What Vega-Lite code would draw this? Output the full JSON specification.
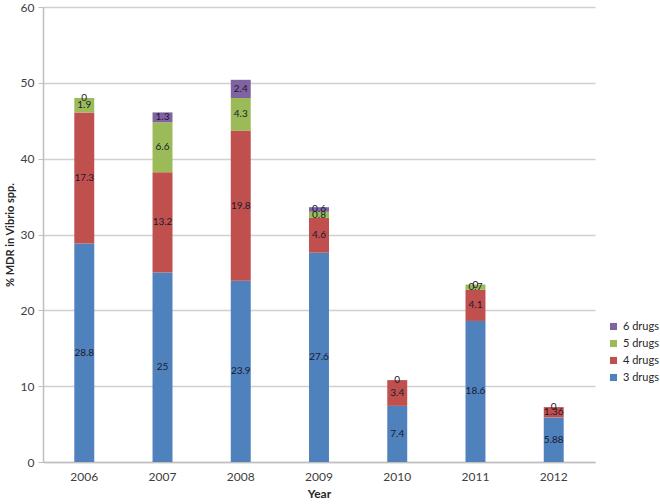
{
  "$schema": "https://vega.github.io/schema/vega-lite/v6.json",
  "width": 552,
  "height": 455,
  "autosize": "none",
  "padding": {"left": 43, "top": 7, "right": 65, "bottom": 42},
  "background": "white",
  "config": {
    "font": "Lato",
    "view": {"stroke": null},
    "axis": {"labelFont": "Lato", "titleFont": "Lato", "labelColor": "#404040", "titleColor": "#262626"}
  },
  "data": {
    "values": [
      {"year": "2006", "drugs": "3 drugs", "value": 28.8},
      {"year": "2006", "drugs": "4 drugs", "value": 17.3},
      {"year": "2006", "drugs": "5 drugs", "value": 1.9},
      {"year": "2006", "drugs": "6 drugs", "value": 0},
      {"year": "2007", "drugs": "3 drugs", "value": 25},
      {"year": "2007", "drugs": "4 drugs", "value": 13.2},
      {"year": "2007", "drugs": "5 drugs", "value": 6.6},
      {"year": "2007", "drugs": "6 drugs", "value": 1.3},
      {"year": "2008", "drugs": "3 drugs", "value": 23.9},
      {"year": "2008", "drugs": "4 drugs", "value": 19.8},
      {"year": "2008", "drugs": "5 drugs", "value": 4.3},
      {"year": "2008", "drugs": "6 drugs", "value": 2.4},
      {"year": "2009", "drugs": "3 drugs", "value": 27.6},
      {"year": "2009", "drugs": "4 drugs", "value": 4.6},
      {"year": "2009", "drugs": "5 drugs", "value": 0.8},
      {"year": "2009", "drugs": "6 drugs", "value": 0.6},
      {"year": "2010", "drugs": "3 drugs", "value": 7.4},
      {"year": "2010", "drugs": "4 drugs", "value": 3.4},
      {"year": "2010", "drugs": "5 drugs", "value": 0},
      {"year": "2011", "drugs": "3 drugs", "value": 18.6},
      {"year": "2011", "drugs": "4 drugs", "value": 4.1},
      {"year": "2011", "drugs": "5 drugs", "value": 0.7},
      {"year": "2011", "drugs": "6 drugs", "value": 0},
      {"year": "2012", "drugs": "3 drugs", "value": 5.88},
      {"year": "2012", "drugs": "4 drugs", "value": 1.36},
      {"year": "2012", "drugs": "5 drugs", "value": 0}
    ]
  },
  "encoding": {
    "x": {
      "field": "year",
      "type": "ordinal",
      "scale": {"paddingInner": 0.745, "paddingOuter": 0.4},
      "axis": {
        "title": "Year",
        "titleFontSize": 12,
        "titleFontWeight": "bold",
        "titlePadding": 6,
        "labelAngle": 0,
        "labelFontSize": 12,
        "labelPadding": 9,
        "ticks": false,
        "domainColor": "#BFBFBF",
        "domainWidth": 1.5
      }
    }
  },
  "layer": [
    {
      "mark": {"type": "bar"},
      "encoding": {
        "y": {
          "field": "value",
          "type": "quantitative",
          "stack": "zero",
          "scale": {"domain": [0, 60], "nice": false},
          "axis": {
            "title": "% MDR in Vibrio spp.",
            "titleFontSize": 11,
            "titleFontWeight": "bold",
            "titlePadding": 5,
            "values": [0, 10, 20, 30, 40, 50, 60],
            "labelFontSize": 12,
            "labelPadding": 4,
            "tickSize": 5,
            "tickColor": "#BFBFBF",
            "domainColor": "#BFBFBF",
            "domainWidth": 1.5,
            "gridColor": "#D0D0D0",
            "gridWidth": 1.5
          }
        },
        "color": {
          "field": "drugs",
          "type": "nominal",
          "scale": {
            "domain": ["6 drugs", "5 drugs", "4 drugs", "3 drugs"],
            "range": ["#8064A2", "#9BBB59", "#C0504D", "#4F81BD"]
          },
          "legend": {
            "title": null,
            "orient": "none",
            "legendX": 565,
            "legendY": 314,
            "symbolType": "square",
            "symbolSize": 50,
            "symbolStrokeWidth": 0,
            "labelFontSize": 11,
            "labelColor": "#262626",
            "labelFont": "Lato",
            "rowPadding": 5
          }
        },
        "order": {"field": "drugs", "sort": "ascending"}
      }
    },
    {
      "transform": [
        {"stack": "value", "groupby": ["year"], "sort": [{"field": "drugs", "order": "ascending"}], "as": ["y0", "y1"]},
        {"calculate": "(datum.y0 + datum.y1) / 2", "as": "mid"}
      ],
      "mark": {"type": "text", "fontSize": 10, "color": "#1A1A2E", "baseline": "middle"},
      "encoding": {
        "y": {"field": "mid", "type": "quantitative"},
        "text": {"field": "value", "type": "quantitative"}
      }
    }
  ]
}
